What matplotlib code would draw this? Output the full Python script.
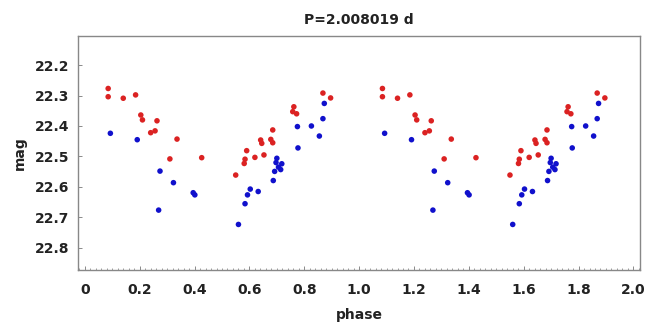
import numpy as np
import matplotlib
matplotlib.use('Agg')
import matplotlib.pyplot as plt
from matplotlib.ticker import MultipleLocator

# red band
red_phase = [0.085, 0.085, 0.140, 0.185, 0.204, 0.210, 0.263, 0.240, 0.256, 0.336,
             0.310, 0.426, 0.868, 0.896, 0.762, 0.758, 0.772, 0.685, 0.641, 0.645,
             0.678, 0.685, 0.590, 0.620, 0.653, 0.584, 0.581, 0.550]
red_mag = [22.277, 22.304, 22.309, 22.298, 22.364, 22.380, 22.383, 22.422, 22.416, 22.443,
           22.508, 22.504, 22.292, 22.308, 22.337, 22.353, 22.360, 22.413, 22.446, 22.457,
           22.444, 22.455, 22.481, 22.503, 22.495, 22.509, 22.523, 22.561]

# blue band
blue_phase = [0.093, 0.191, 0.274, 0.323, 0.395, 0.401, 0.269, 0.873, 0.868, 0.826,
              0.855, 0.775, 0.777, 0.700, 0.697, 0.718, 0.706, 0.714, 0.692, 0.687,
              0.603, 0.593, 0.632, 0.584, 0.560]
blue_mag = [22.424, 22.445, 22.548, 22.586, 22.619, 22.626, 22.676, 22.326, 22.376, 22.400,
            22.433, 22.402, 22.472, 22.506, 22.520, 22.524, 22.535, 22.543, 22.549, 22.579,
            22.607, 22.626, 22.615, 22.655, 22.723]

period = 2.008019
xticks = [0, 0.2, 0.4, 0.6, 0.8, 1.0, 1.2, 1.4, 1.6, 1.8, 2.0]
xticklabels = ['0', '0.2', '0.4', '0.6', '0.8', '1.0', '1.2', '1.4', '1.6', '1.8', '2.0']
yticks = [22.2, 22.3, 22.4, 22.5, 22.6, 22.7, 22.8]

plt.rcParams['font.family'] = ['DejaVu Sans']
plt.rcParams['font.weight'] = 'bold'

fig = plt.figure(figsize=(6.5, 3.22), dpi=100)
ax = fig.add_axes([0.12, 0.161, 0.865, 0.727])

rp = np.array(red_phase)
bp = np.array(blue_phase)
for shift in (0, 1):
    ax.scatter(rp + shift, red_mag, s=16, color='#db2222', edgecolors='none')
    ax.scatter(bp + shift, blue_mag, s=16, color='#1010cc', edgecolors='none')

ax.set_xlim(-0.025, 2.025)
ax.set_ylim(22.873, 22.105)
ax.set_xticks(xticks)
ax.set_xticklabels(xticklabels)
ax.set_yticks(yticks)
ax.xaxis.set_minor_locator(MultipleLocator(0.02))

ax.tick_params(axis='both', which='major', direction='in', length=3, width=0.6,
               color='#777777', labelsize=10, labelcolor='#222222', pad=6)
ax.tick_params(axis='x', which='major', pad=9)
ax.tick_params(axis='x', which='minor', direction='in', length=1.5, width=0.5, color='#777777')
for lab in ax.get_xticklabels() + ax.get_yticklabels():
    lab.set_fontweight('bold')

for sp in ax.spines.values():
    sp.set_color('#888888')
    sp.set_linewidth(1.0)

ax.set_title('P=%.6f d' % period, fontsize=10, fontweight='bold', color='#222222', pad=9)
ax.set_xlabel('phase', fontsize=10, fontweight='bold', color='#222222', labelpad=8)
ax.set_ylabel('mag', fontsize=10, fontweight='bold', color='#222222', labelpad=6)

fig.savefig('out.png', dpi=100)
